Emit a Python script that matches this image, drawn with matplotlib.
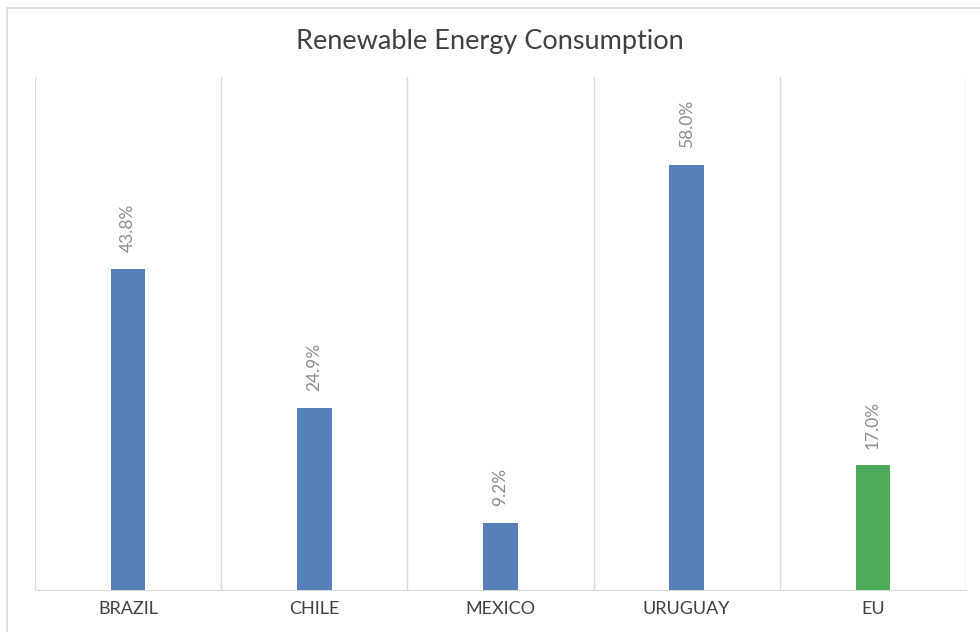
import matplotlib.pyplot as plt
from matplotlib.patches import Rectangle

countries = ['BRAZIL', 'CHILE', 'MEXICO', 'URUGUAY', 'EU']
values = [43.8, 24.9, 9.2, 58.0, 17.0]
colors = ['#5580b9', '#5580b9', '#5580b9', '#5580b9', '#4dac5a']

plt.rcParams['font.family'] = ['Lato', 'DejaVu Sans']

fig = plt.figure(figsize=(9.8, 6.32), dpi=100)
# cadre du graphique
fig.patches.append(Rectangle((7/980, -0.05), 1.0, 1 - 8/632 + 0.05, transform=fig.transFigure,
                             fill=False, edgecolor='#d9d9d9', linewidth=1.2))
ax = fig.add_axes([35/980, 42/632, 931/980, 513/632])

x = range(len(countries))
ax.bar(x, values, width=0.185, color=colors, zorder=3)
for i, v in enumerate(values):
    ax.text(i, v + 2.3, '%.1f%%' % v, rotation=90, ha='center', va='bottom',
            color='#8c8c8c', fontsize=12.5)

ax.set_xlim(-0.5, len(countries) - 0.5)
ax.set_ylim(0, 70)
for b in [i - 0.5 for i in range(len(countries) + 1)]:
    ax.axvline(b, color='#d9d9d9', linewidth=1, zorder=1)
for s in ['top', 'left', 'right']:
    ax.spines[s].set_visible(False)
ax.spines['bottom'].set_color('#d9d9d9')
ax.set_yticks([])
ax.set_xticks(list(x))
ax.set_xticklabels(countries, fontsize=13, color='#404040')
ax.tick_params(axis='x', length=0, pad=8)

fig.text(0.5, 1 - 42/632, 'Renewable Energy Consumption', ha='center', va='center',
         fontsize=19.5, color='#404040')

plt.savefig('out.png', dpi=100)
